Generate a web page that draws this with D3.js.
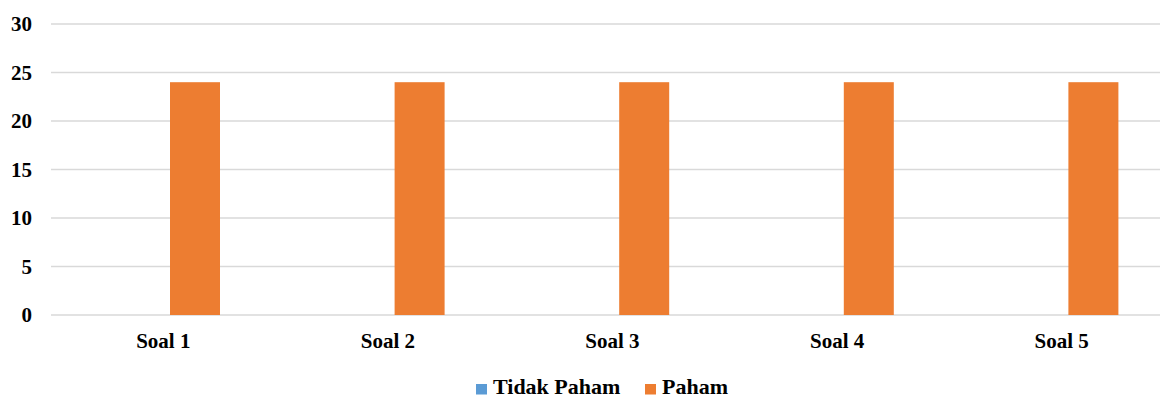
<!DOCTYPE html>
<html>
<head>
<meta charset="utf-8">
<script src="https://cdn.jsdelivr.net/npm/d3@7.9.0/dist/d3.min.js"></script>
<style>
  html, body { margin: 0; padding: 0; background: #fff; }
  svg { display: block; font-family: "Liberation Serif", "DejaVu Serif", serif; font-weight: bold; }
</style>
</head>
<body>
<svg width="1160" height="399"></svg>
<script>
// chart data
const categories = ['Soal 1', 'Soal 2', 'Soal 3', 'Soal 4', 'Soal 5'];
const seriesNames = ['Tidak Paham', 'Paham'];
const tidakPaham = [0, 0, 0, 0, 0];
const paham = [24, 24, 24, 24, 24];
const yTicks = [0, 5, 10, 15, 20, 25, 30];
const colors = ['#5B9BD5', '#ED7D31'];

const svg = d3.select('svg');

// plot runs a bit past the right edge, like the cropped original
const x0 = d3.scaleBand().domain(categories).range([51, 1174]);
const x1 = d3.scaleBand().domain(seriesNames).range([69, 169]);
const y = d3.scaleLinear().domain([0, 30]).range([315, 24]);

// gridlines
svg.append('g')
  .selectAll('line')
  .data(yTicks)
  .enter()
  .append('line')
  .attr('x1', 51)
  .attr('x2', 1174)
  .attr('y1', d => y(d))
  .attr('y2', d => y(d))
  .attr('stroke', '#d9d9d9')
  .attr('stroke-width', 1.6);

// y labels
svg.append('g')
  .selectAll('text')
  .data(yTicks)
  .enter()
  .append('text')
  .attr('x', 32)
  .attr('y', d => y(d))
  .attr('dy', '0.35em')
  .attr('text-anchor', 'end')
  .attr('font-size', 21)
  .attr('fill', '#000')
  .text(d => d);

// bars
const rows = categories.map((c, i) => ({ cat: c, values: [tidakPaham[i], paham[i]] }));
const groups = svg.append('g')
  .selectAll('g')
  .data(rows)
  .enter()
  .append('g')
  .attr('transform', d => `translate(${x0(d.cat)},0)`);

groups.selectAll('rect')
  .data(d => d.values.map((v, j) => ({ key: seriesNames[j], value: v, color: colors[j] })))
  .enter()
  .append('rect')
  .attr('x', d => x1(d.key))
  .attr('width', x1.bandwidth())
  .attr('y', d => y(d.value))
  .attr('height', d => y(0) - y(d.value))
  .attr('fill', d => d.color);

// x labels
svg.append('g')
  .selectAll('text')
  .data(categories)
  .enter()
  .append('text')
  .attr('x', d => x0(d) + x0.bandwidth() / 2)
  .attr('y', 348)
  .attr('text-anchor', 'middle')
  .attr('font-size', 21)
  .attr('fill', '#000')
  .text(d => d);

// legend
const legendX = [476, 645];
const legend = svg.append('g')
  .selectAll('g')
  .data(seriesNames)
  .enter()
  .append('g')
  .attr('transform', (d, i) => `translate(${legendX[i]},0)`);

legend.append('rect')
  .attr('x', 0)
  .attr('y', 384)
  .attr('width', 11)
  .attr('height', 10.5)
  .attr('fill', (d, i) => colors[i]);

legend.append('text')
  .attr('x', 17)
  .attr('y', 394)
  .attr('font-size', 22)
  .attr('fill', '#000')
  .text(d => d);
</script>
</body>
</html>
